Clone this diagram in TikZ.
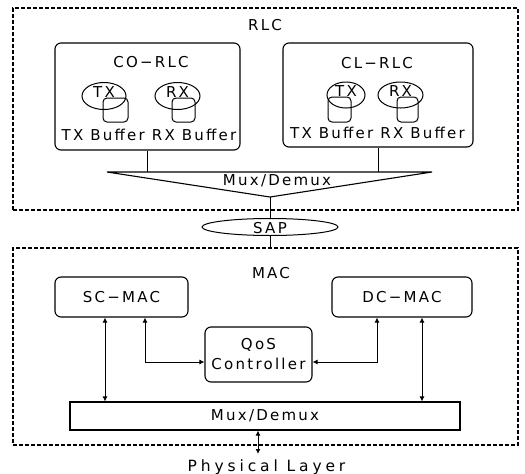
\documentclass[tikz,border=0pt]{standalone}
\usepackage{fontspec}
\setmainfont{DejaVu Sans}[LetterSpace=15]
\usetikzlibrary{arrows.meta,shapes.geometric}
\begin{document}
\begin{tikzpicture}[x=1pt,y=-1pt,
  every node/.style={font=\fontsize{15}{20}\selectfont},
  layerbox/.style={draw, line width=1.4pt, dash pattern=on 4pt off 2pt, inner sep=0pt},
  rbox/.style={draw, line width=1.1pt, rounded corners=6pt, inner sep=0pt},
  bufbox/.style={draw, line width=1pt, rounded corners=4pt, inner sep=0pt},
  oval/.style={draw, ellipse, line width=1pt, inner sep=0pt},
  plain/.style={inner sep=0pt},
  link/.style={line width=1pt},
  dbl/.style={line width=0.9pt, {Latex[length=5pt,width=5pt]}-{Latex[length=5pt,width=5pt]}}
]
\useasboundingbox (0,0) rectangle (525,474);

% RLC layer
\node[layerbox, minimum width=505pt, minimum height=202pt] (rlc) at (265.5,109) {};
\node[plain] (rlclab) at (265,25) {RLC};

\node[rbox, minimum width=185pt, minimum height=107pt] (co) at (147.5,96.5) {};
\node[plain] (colab) at (151,62) {CO−RLC};
\node[oval, minimum width=44pt, minimum height=27pt] (cotx) at (104,96) {};
\node[plain] (cotxl) at (104,92) {TX};
\node[bufbox, minimum width=25pt, minimum height=24pt] (cotxb) at (115.5,110) {};
\node[oval, minimum width=45pt, minimum height=27pt] (corx) at (177.5,96) {};
\node[plain] (corxl) at (177.5,92) {RX};
\node[bufbox, minimum width=23pt, minimum height=24pt] (corxb) at (183.5,110) {};
\node[plain] (cobuf) at (149,135) {TX Buffer RX Buffer};

\node[rbox, minimum width=190pt, minimum height=104pt] (cl) at (378,95) {};
\node[plain] (cllab) at (377,63) {CL−RLC};
\node[oval, minimum width=38pt, minimum height=26pt] (cltx) at (346,95) {};
\node[plain] (cltxl) at (346,91) {TX};
\node[bufbox, minimum width=23pt, minimum height=25pt] (cltxb) at (339.5,109.5) {};
\node[oval, minimum width=45pt, minimum height=26pt] (clrx) at (400.5,95) {};
\node[plain] (clrxl) at (400.5,91) {RX};
\node[bufbox, minimum width=21pt, minimum height=25pt] (clrxb) at (407.5,109.5) {};
\node[plain] (clbuf) at (377.5,133) {TX Buffer RX Buffer};

% upper mux/demux funnel
\coordinate (fl) at (107,172);
\coordinate (fr) at (432,172);
\coordinate (fa) at (270,197);
\draw[line width=1.1pt] (fl) -- (fr) -- (fa) -- cycle;
\node[plain] (mux1) at (277,181) {Mux/Demux};
\draw[link] (co.south) -- (co.south |- fl);
\draw[link] (cl.south) -- (cl.south |- fr);

% SAP
\node[oval, minimum width=136pt, minimum height=17pt] (sap) at (270,227) {};
\node[plain] (saplab) at (270,228) {SAP};
\draw[link] (fa) -- (sap.north);

% MAC layer
\node[layerbox, minimum width=505pt, minimum height=197pt] (mac) at (265.5,346.5) {};
\node[plain] (maclab) at (271,273) {MAC};
\draw[link] (sap.south) -- (sap.south |- mac.north);

\node[rbox, minimum width=133pt, minimum height=40pt] (sc) at (121.5,297) {SC−MAC};
\node[rbox, minimum width=140pt, minimum height=40pt] (dc) at (402,297) {DC−MAC};
\node[rbox, minimum width=107pt, minimum height=55pt, align=center] (qos) at (258.5,354.5) {QoS\\Controller};
\node[draw, line width=1.1pt, inner sep=0pt, minimum width=390pt, minimum height=28pt] (mux2) at (265,416) {Mux/Demux};

\draw[dbl] ([xshift=-16.5pt]sc.south) -- ([xshift=-16.5pt]sc.south |- mux2.north);
\draw[dbl] ([xshift=20pt]dc.south) -- ([xshift=20pt]dc.south |- mux2.north);
\draw[dbl] ([xshift=23.5pt]sc.south) |- ([yshift=-7.5pt]qos.west);
\draw[dbl] ([xshift=-25pt]dc.south) |- ([yshift=-7.5pt]qos.east);

\node[plain, font=\fontsize{15.5}{20}\selectfont\addfontfeature{LetterSpace=25}] (phy) at (266.5,467) {Physical Layer};
\coordinate (phyend) at (258,454);
\draw[dbl] ([xshift=-7pt]mux2.south) -- (phyend);
\end{tikzpicture}
\end{document}
